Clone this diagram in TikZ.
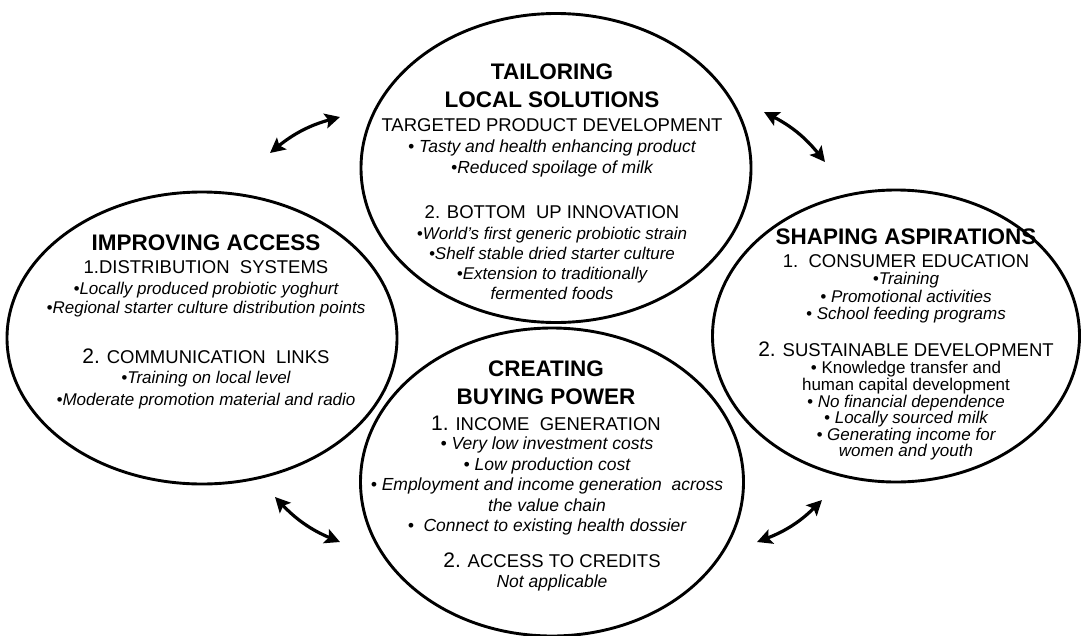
\documentclass[tikz,border=0pt]{standalone}
\usepackage{fontspec}
\setmainfont{Liberation Sans}
\usetikzlibrary{shapes,arrows.meta}
\tikzstyle{circ}=[ellipse,draw,line width=2.9pt,inner sep=0pt]
\tikzstyle{title}=[font=\fontsize{22.5}{28.5}\selectfont\bfseries,align=center,inner sep=0pt]
\tikzstyle{head}=[font=\fontsize{18.5}{22}\selectfont,align=center,inner sep=0pt]
\tikzstyle{item}=[font=\fontsize{17.5}{20.5}\selectfont\itshape,align=center,inner sep=0pt]
\tikzstyle{link}=[{Stealth[length=15pt,width=15pt,inset=3pt]}-{Stealth[length=15pt,width=15pt,inset=3pt]},line width=3.2pt]
\newcommand{\bignum}[1]{{\fontsize{21}{21}\selectfont #1}}

\begin{document}
\begin{tikzpicture}[x=1pt,y=-1pt]
    \useasboundingbox (0,0) rectangle (1081,635);

    % the four ellipses
    \node[circ,minimum width=390pt,minimum height=309pt] (tailor) at (556,168) {};
    \node[circ,minimum width=390pt,minimum height=292pt] (access) at (202,338) {};
    \node[circ,minimum width=367pt,minimum height=292pt] (aspire) at (896,336) {};
    \node[circ,minimum width=383pt,minimum height=308pt] (buying) at (552,482) {};

    % tailoring local solutions
    \node[title] (tailorT) at (552,86) {TAILORING\\LOCAL SOLUTIONS};
    \node[head] (tailorH1) at (552,125) {TARGETED PRODUCT DEVELOPMENT};
    \node[item] (tailorI1) at (552,158.5) {• Tasty and health enhancing product\\•Reduced spoilage of milk};
    \node[head] (tailorH2) at (552,212) {2. BOTTOM\ \ UP INNOVATION};
    \node[item,font=\fontsize{17}{20}\selectfont\itshape] (tailorI2) at (552,263)
        {•World’s first generic probiotic strain\\•Shelf stable dried starter culture\\•Extension to traditionally\\fermented foods};

    % improving access
    \node[title] (accessT) at (206,243) {IMPROVING ACCESS};
    \node[head] (accessH1) at (206,267) {1.DISTRIBUTION\ \ SYSTEMS};
    \node[item,font=\fontsize{17}{19.5}\selectfont\itshape] (accessI1) at (206,299.5)
        {•Locally produced probiotic yoghurt\\•Regional starter culture distribution points};
    \node[head] (accessH2) at (206,356) {\bignum{2.} COMMUNICATION\ \ LINKS};
    \node[item,font=\fontsize{17}{22}\selectfont\itshape] (accessI2) at (206,390)
        {•Training on local level\\•Moderate promotion material and radio};

    % shaping aspirations
    \node[title] (aspireT) at (906,237) {SHAPING ASPIRATIONS};
    \node[head] (aspireH1) at (906,261) {1.\ \ CONSUMER EDUCATION};
    \node[item,font=\fontsize{17}{17.5}\selectfont\itshape] (aspireI1) at (906,298)
        {•Training\\• Promotional activities\\• School feeding programs};
    \node[head] (aspireH2) at (906,349) {\bignum{2.} SUSTAINABLE DEVELOPMENT};
    \node[item,font=\fontsize{17}{16.6}\selectfont\itshape] (aspireI2) at (906,411)
        {{\upshape • Knowledge transfer and}\\{\upshape human capital development}\\• No financial dependence\\• Locally sourced milk\\• Generating income for\\women and youth};

    % creating buying power
    \node[title] (buyingT) at (546,382.5) {CREATING\\BUYING POWER};
    \node[head] (buyingH1) at (546,423) {\bignum{1.} INCOME\ \ GENERATION};
    \node[item] (buyingI1) at (547,486)
        {• Very low investment costs\\• Low production cost\\• Employment and income generation\ \ across\\the value chain\\•\ \ Connect to existing health dossier};
    \node[head] (buyingH2) at (552,560) {\bignum{2.} ACCESS TO CREDITS};
    \node[item] (buyingI2) at (552,583) {Not applicable};

    % double arrows between the ellipses
    \coordinate (tl1) at (270,153);
    \coordinate (tl2) at (340,117);
    \coordinate (tr1) at (764,112);
    \coordinate (tr2) at (825,162);
    \coordinate (bl1) at (275,497);
    \coordinate (bl2) at (340,542);
    \coordinate (br1) at (757,542);
    \coordinate (br2) at (822,500);
    \draw[link] (tl1) to[bend left=12] (tl2);
    \draw[link] (tr1) to[bend left=12] (tr2);
    \draw[link] (bl1) to[bend right=12] (bl2);
    \draw[link] (br1) to[bend right=12] (br2);

\end{tikzpicture}
\end{document}
